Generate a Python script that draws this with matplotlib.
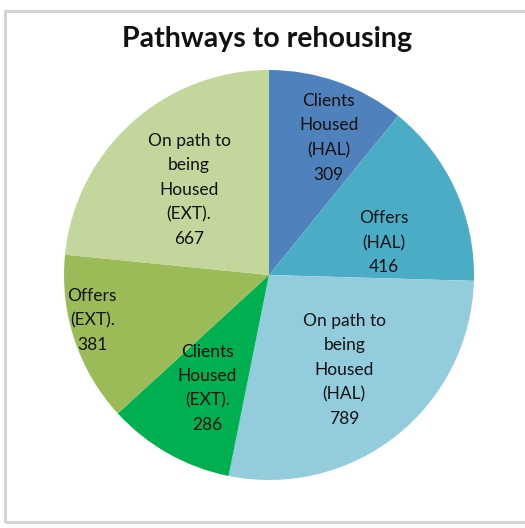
import numpy as np
import matplotlib.pyplot as plt
from matplotlib.patches import Rectangle

plt.rcParams['font.family'] = ['Lato', 'DejaVu Sans']

labels = ['Clients\nHoused\n(HAL)', 'Offers\n(HAL)', 'On path to\nbeing\nHoused\n(HAL)',
          'Clients\nHoused\n(EXT).', 'Offers\n(EXT).', 'On path to\nbeing\nHoused\n(EXT).']
values = [309, 416, 789, 286, 381, 667]
colors = ['#4f81bd', '#4bacc6', '#93cddd', '#00b050', '#9bbb59', '#c3d69b']

# where excel happened to put each label (fraction of radius, angle nudge in deg)
label_r = [0.73, 0.58, 0.59, 0.63, 0.89, 0.57]
label_da = [-4, -9, 0, 1, -4, 1]

fig = plt.figure(figsize=(5.25, 5.28), dpi=100)
W, H = 525, 528

# chart frame
fig.patches.append(Rectangle((4.5 / W, 1 - 521.5 / H), 560 / W, 511 / H,
                             transform=fig.transFigure, fill=False,
                             edgecolor='#d4d4d4', linewidth=2.2))

cx, cy, r = 269, 275, 205
ax = fig.add_axes([(cx - r) / W, (H - cy - r) / H, 2 * r / W, 2 * r / H])
wedges, _ = ax.pie(values, colors=colors, startangle=90, counterclock=False,
                   radius=1, wedgeprops=dict(linewidth=0))
ax.set_xlim(-1, 1)
ax.set_ylim(-1, 1)
ax.set_aspect('auto')
ax.axis('off')

for w, lab, v, fr, da in zip(wedges, labels, values, label_r, label_da):
    ang = np.deg2rad((w.theta1 + w.theta2) / 2 + da)
    ax.text(fr * np.cos(ang), fr * np.sin(ang), f'{lab}\n{v}', ha='center', va='center',
            fontsize=12.5, color='#111111', linespacing=1.65)

fig.text(267 / W, 1 - 39 / H, 'Pathways to rehousing', ha='center', va='center',
         fontsize=20.5, fontweight='bold', color='#111111')

fig.savefig('out.png', dpi=100)
